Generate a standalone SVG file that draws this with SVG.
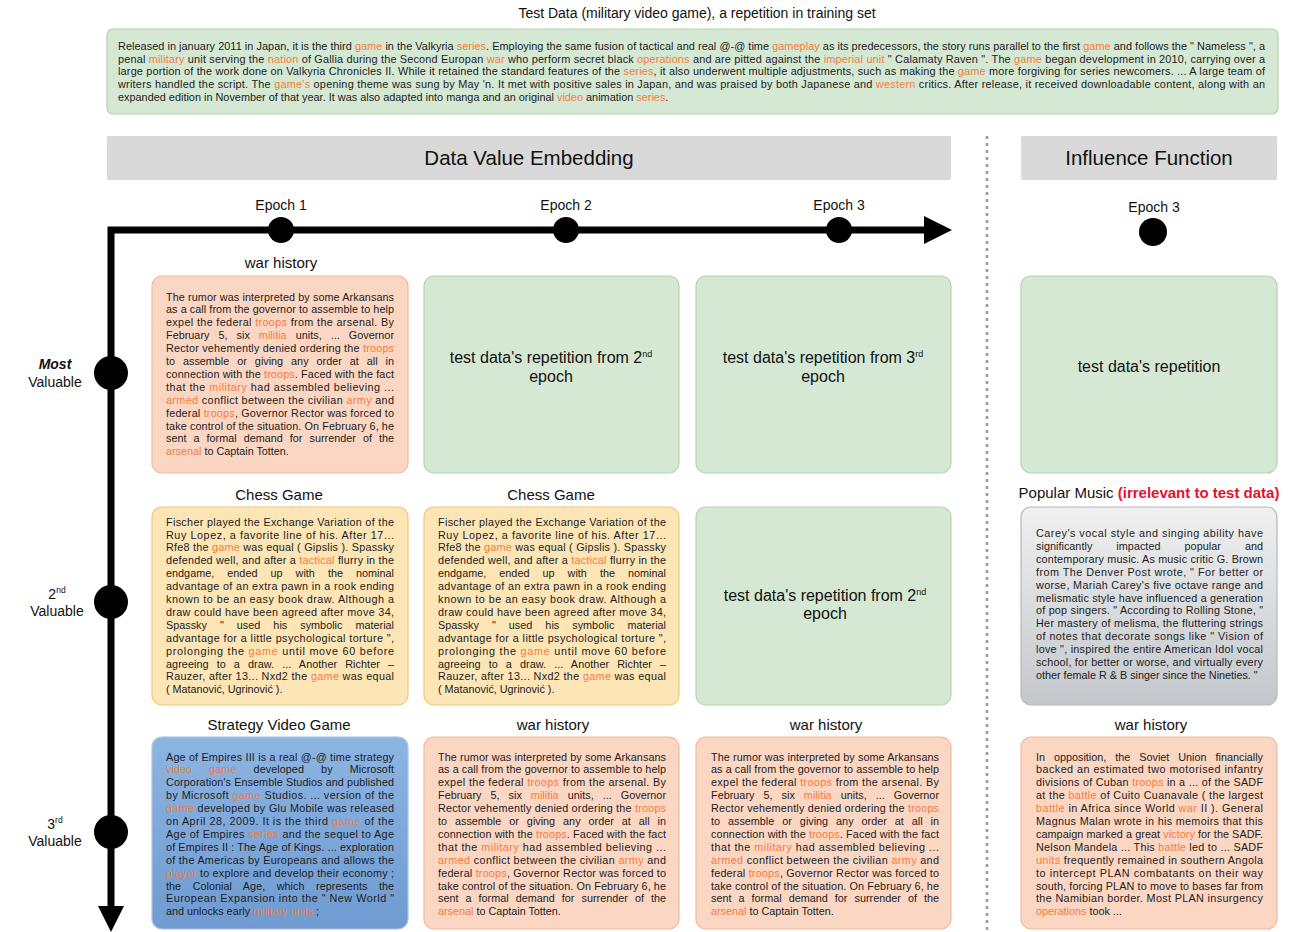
<svg xmlns="http://www.w3.org/2000/svg" width="1294" height="932" viewBox="0 0 1294 932">
<defs>
<style>
.h{font-family:"Liberation Sans",Arial,sans-serif;fill:#111;text-anchor:middle}
.b{font-family:"Liberation Sans",Arial,sans-serif;font-size:10.8px;fill:#1c1c1c}
.t{font-family:"Liberation Sans",Arial,sans-serif;font-size:10.9px;fill:#1c1c1c}
.k{fill:#f47c3c}
.green{fill:#d5e8d4;stroke:#b5d4ab;stroke-width:1.2}
.peach{fill:#fbd6c3;stroke:#f3b99c;stroke-width:1.2}
.yellow{fill:#fde5b6;stroke:#f4c67a;stroke-width:1.2}
.blue{fill:url(#gBlue);stroke:#a9c3e3;stroke-width:1.2}
.gray{fill:url(#gGray);stroke:#b8b8b8;stroke-width:1.2}
.hdr{fill:#d9d9d9}
.axis{fill:none;stroke:#000;stroke-width:7;stroke-linejoin:miter}
</style>
<linearGradient id="gBlue" x1="0" y1="0" x2="0" y2="1">
<stop offset="0" stop-color="#8db5e3"/><stop offset="1" stop-color="#6f9bd2"/>
</linearGradient>
<linearGradient id="gGray" x1="0" y1="0" x2="0" y2="1">
<stop offset="0" stop-color="#f0f0f0"/><stop offset="1" stop-color="#c3c7cc"/>
</linearGradient>
</defs>
<rect width="1294" height="932" fill="#fff"/>

<g id="title">
<text class="h" x="697" y="18" font-size="14">Test Data (military video game), a repetition in training set</text>
</g>

<g id="test-data">
<rect class="green" x="107" y="29" width="1171" height="85" rx="6"/>
<text class="t" x="118" y="49.7" textLength="1147" lengthAdjust="spacing">Released in january 2011 in Japan, it is the third <tspan class="k">game</tspan> in the Valkyria <tspan class="k">series</tspan>. Employing the same fusion of tactical and real @-@ time <tspan class="k">gameplay</tspan> as its predecessors, the story runs parallel to the first <tspan class="k">game</tspan> and follows the " Nameless ", a</text>
<text class="t" x="118" y="62.5" textLength="1147" lengthAdjust="spacing">penal <tspan class="k">military</tspan> unit serving the <tspan class="k">nation</tspan> of Gallia during the Second Europan <tspan class="k">war</tspan> who perform secret black <tspan class="k">operations</tspan> and are pitted against the <tspan class="k">imperial unit</tspan> " Calamaty Raven ". The <tspan class="k">game</tspan> began development in 2010, carrying over a</text>
<text class="t" x="118" y="75.3" textLength="1147" lengthAdjust="spacing">large portion of the work done on Valkyria Chronicles II. While it retained the standard features of the <tspan class="k">series</tspan>, it also underwent multiple adjustments, such as making the <tspan class="k">game</tspan> more forgiving for series newcomers. ... A large team of</text>
<text class="t" x="118" y="88.1" textLength="1147" lengthAdjust="spacing">writers handled the script. The <tspan class="k">game's</tspan> opening theme was sung by May 'n. It met with positive sales in Japan, and was praised by both Japanese and <tspan class="k">western</tspan> critics. After release, it received downloadable content, along with an</text>
<text class="t" x="118" y="100.9">expanded edition in November of that year. It was also adapted into manga and an original <tspan class="k">video</tspan> animation <tspan class="k">series</tspan>.</text>
</g>

<g id="header-dve">
<rect class="hdr" x="107" y="136" width="844" height="44" rx="2"/>
<text class="h" x="529" y="165" font-size="20.5">Data Value Embedding</text>
</g>
<g id="header-if">
<rect class="hdr" x="1021" y="136" width="256" height="44" rx="2"/>
<text class="h" x="1149" y="165" font-size="20.5">Influence Function</text>
</g>

<g id="connectors">
<line x1="987" y1="136" x2="987" y2="932" stroke="#9a9a9a" stroke-width="2.5" stroke-dasharray="3,4"/>
<path class="axis" d="M111,908 V230 H928"/>
<polygon points="924,216 952,230 924,244" fill="#000"/>
<polygon points="98,906 124,906 111,932" fill="#000"/>
</g>

<g id="epoch-1"><circle cx="281" cy="230" r="13"/><text class="h" x="281" y="210" font-size="14">Epoch 1</text></g>
<g id="epoch-2"><circle cx="566" cy="230" r="13"/><text class="h" x="566" y="210" font-size="14">Epoch 2</text></g>
<g id="epoch-3"><circle cx="839" cy="230" r="13"/><text class="h" x="839" y="210" font-size="14">Epoch 3</text></g>
<g id="if-epoch-3"><circle cx="1153" cy="232" r="14"/><text class="h" x="1154" y="212" font-size="14">Epoch 3</text></g>

<g id="rank-1"><circle cx="111" cy="373" r="17"/><text class="h" x="55" y="369" font-size="14" font-style="italic" font-weight="bold">Most</text><text class="h" x="55" y="387" font-size="14">Valuable</text></g>
<g id="rank-2"><circle cx="111" cy="602" r="17"/><text class="h" x="57" y="599" font-size="14">2<tspan font-size="8.5" dy="-6">nd</tspan></text><text class="h" x="57" y="616" font-size="14">Valuable</text></g>
<g id="rank-3"><circle cx="111" cy="832" r="17"/><text class="h" x="55" y="829" font-size="14">3<tspan font-size="8.5" dy="-6">rd</tspan></text><text class="h" x="55" y="846" font-size="14">Valuable</text></g>

<g id="r1c1">
<text class="h" x="281" y="268" font-size="15">war history</text>
<rect class="peach" x="152" y="276" width="256" height="197" rx="10"/>
<text class="b" x="166" y="300.5" textLength="228" lengthAdjust="spacing">The rumor was interpreted by some Arkansans</text>
<text class="b" x="166" y="313.4" textLength="228" lengthAdjust="spacing">as a call from the governor to assemble to help</text>
<text class="b" x="166" y="326.3" textLength="228" lengthAdjust="spacing">expel the federal <tspan class="k">troops</tspan> from the arsenal. By</text>
<text class="b" x="166" y="339.2" textLength="228" lengthAdjust="spacing" word-spacing="6">February 5, six <tspan class="k">militia</tspan> units, ... Governor</text>
<text class="b" x="166" y="352.1" textLength="228" lengthAdjust="spacing">Rector vehemently denied ordering the <tspan class="k">troops</tspan></text>
<text class="b" x="166" y="365" textLength="228" lengthAdjust="spacing" word-spacing="5">to assemble or giving any order at all in</text>
<text class="b" x="166" y="377.9" textLength="228" lengthAdjust="spacing">connection with the <tspan class="k">troops</tspan>. Faced with the fact</text>
<text class="b" x="166" y="390.8" textLength="228" lengthAdjust="spacing">that the <tspan class="k">military</tspan> had assembled believing ...</text>
<text class="b" x="166" y="403.7" textLength="228" lengthAdjust="spacing"><tspan class="k">armed</tspan> conflict between the civilian <tspan class="k">army</tspan> and</text>
<text class="b" x="166" y="416.6" textLength="228" lengthAdjust="spacing">federal <tspan class="k">troops</tspan>, Governor Rector was forced to</text>
<text class="b" x="166" y="429.5" textLength="228" lengthAdjust="spacing">take control of the situation. On February 6, he</text>
<text class="b" x="166" y="442.4" textLength="228" lengthAdjust="spacing" word-spacing="4">sent a formal demand for surrender of the</text>
<text class="b" x="166" y="455.3"><tspan class="k">arsenal</tspan> to Captain Totten.</text>
</g>

<g id="r1c2">
<rect class="green" x="424" y="276" width="255" height="197" rx="10"/>
<text class="h" x="551" y="363" font-size="16">test data's repetition from 2<tspan font-size="9" dy="-6">nd</tspan></text>
<text class="h" x="551" y="382" font-size="16">epoch</text>
</g>
<g id="r1c3">
<rect class="green" x="696" y="276" width="255" height="197" rx="10"/>
<text class="h" x="823" y="363" font-size="16">test data's repetition from 3<tspan font-size="9" dy="-6">rd</tspan></text>
<text class="h" x="823" y="382" font-size="16">epoch</text>
</g>
<g id="r1c4">
<rect class="green" x="1021" y="276" width="256" height="197" rx="10"/>
<text class="h" x="1149" y="372" font-size="16">test data's repetition</text>
</g>

<g id="r2c1">
<text class="h" x="279" y="500" font-size="15">Chess Game</text>
<rect class="yellow" x="152" y="507" width="256" height="198" rx="10"/>
<text class="b" x="166" y="525.6" textLength="228" lengthAdjust="spacing">Fischer played the Exchange Variation of the</text>
<text class="b" x="166" y="538.5" textLength="228" lengthAdjust="spacing">Ruy Lopez, a favorite line of his. After 17...</text>
<text class="b" x="166" y="551.4" textLength="228" lengthAdjust="spacing">Rfe8 the <tspan class="k">game</tspan> was equal ( Gipslis ). Spassky</text>
<text class="b" x="166" y="564.3" textLength="228" lengthAdjust="spacing">defended well, and after a <tspan class="k">tactical</tspan> flurry in the</text>
<text class="b" x="166" y="577.2" textLength="228" lengthAdjust="spacing" word-spacing="10">endgame, ended up with the nominal</text>
<text class="b" x="166" y="590.1" textLength="228" lengthAdjust="spacing">advantage of an extra pawn in a rook ending</text>
<text class="b" x="166" y="603" textLength="228" lengthAdjust="spacing">known to be an easy book draw. Although a</text>
<text class="b" x="166" y="615.9" textLength="228" lengthAdjust="spacing">draw could have been agreed after move 34,</text>
<text class="b" x="166" y="628.8" textLength="228" lengthAdjust="spacing" word-spacing="10">Spassky " used his symbolic material</text>
<text class="b" x="166" y="641.7" textLength="228" lengthAdjust="spacing">advantage for a little psychological torture ",</text>
<text class="b" x="166" y="654.6" textLength="228" lengthAdjust="spacing">prolonging the <tspan class="k">game</tspan> until move 60 before</text>
<text class="b" x="166" y="667.5" textLength="228" lengthAdjust="spacing" word-spacing="5">agreeing to a draw. ... Another Richter –</text>
<text class="b" x="166" y="680.4" textLength="228" lengthAdjust="spacing">Rauzer, after 13... Nxd2 the <tspan class="k">game</tspan> was equal</text>
<text class="b" x="166" y="693.3">( Matanović, Ugrinović ).</text>
</g>

<g id="r2c2">
<text class="h" x="551" y="500" font-size="15">Chess Game</text>
<rect class="yellow" x="424" y="507" width="255" height="198" rx="10"/>
<text class="b" x="438" y="525.6" textLength="228" lengthAdjust="spacing">Fischer played the Exchange Variation of the</text>
<text class="b" x="438" y="538.5" textLength="228" lengthAdjust="spacing">Ruy Lopez, a favorite line of his. After 17...</text>
<text class="b" x="438" y="551.4" textLength="228" lengthAdjust="spacing">Rfe8 the <tspan class="k">game</tspan> was equal ( Gipslis ). Spassky</text>
<text class="b" x="438" y="564.3" textLength="228" lengthAdjust="spacing">defended well, and after a <tspan class="k">tactical</tspan> flurry in the</text>
<text class="b" x="438" y="577.2" textLength="228" lengthAdjust="spacing" word-spacing="10">endgame, ended up with the nominal</text>
<text class="b" x="438" y="590.1" textLength="228" lengthAdjust="spacing">advantage of an extra pawn in a rook ending</text>
<text class="b" x="438" y="603" textLength="228" lengthAdjust="spacing">known to be an easy book draw. Although a</text>
<text class="b" x="438" y="615.9" textLength="228" lengthAdjust="spacing">draw could have been agreed after move 34,</text>
<text class="b" x="438" y="628.8" textLength="228" lengthAdjust="spacing" word-spacing="10">Spassky " used his symbolic material</text>
<text class="b" x="438" y="641.7" textLength="228" lengthAdjust="spacing">advantage for a little psychological torture ",</text>
<text class="b" x="438" y="654.6" textLength="228" lengthAdjust="spacing">prolonging the <tspan class="k">game</tspan> until move 60 before</text>
<text class="b" x="438" y="667.5" textLength="228" lengthAdjust="spacing" word-spacing="5">agreeing to a draw. ... Another Richter –</text>
<text class="b" x="438" y="680.4" textLength="228" lengthAdjust="spacing">Rauzer, after 13... Nxd2 the <tspan class="k">game</tspan> was equal</text>
<text class="b" x="438" y="693.3">( Matanović, Ugrinović ).</text>
</g>

<g id="r2c3">
<rect class="green" x="696" y="507" width="255" height="198" rx="10"/>
<text class="h" x="825" y="601" font-size="16">test data's repetition from 2<tspan font-size="9" dy="-6">nd</tspan></text>
<text class="h" x="825" y="619" font-size="16">epoch</text>
</g>

<g id="r2c4">
<text class="h" x="1149" y="498" font-size="15">Popular Music <tspan fill="#e8112d" font-weight="bold">(irrelevant to test data)</tspan></text>
<rect class="gray" x="1021" y="507" width="256" height="198" rx="10"/>
<text class="b" x="1036" y="537" textLength="227" lengthAdjust="spacing">Carey's vocal style and singing ability have</text>
<text class="b" x="1036" y="549.9" textLength="227" lengthAdjust="spacing" word-spacing="21">significantly impacted popular and</text>
<text class="b" x="1036" y="562.8" textLength="227" lengthAdjust="spacing">contemporary music. As music critic G. Brown</text>
<text class="b" x="1036" y="575.7" textLength="227" lengthAdjust="spacing">from The Denver Post wrote, " For better or</text>
<text class="b" x="1036" y="588.6" textLength="227" lengthAdjust="spacing">worse, Mariah Carey's five octave range and</text>
<text class="b" x="1036" y="601.5" textLength="227" lengthAdjust="spacing">melismatic style have influenced a generation</text>
<text class="b" x="1036" y="614.4" textLength="227" lengthAdjust="spacing">of pop singers. " According to Rolling Stone, "</text>
<text class="b" x="1036" y="627.3" textLength="227" lengthAdjust="spacing">Her mastery of melisma, the fluttering strings</text>
<text class="b" x="1036" y="640.2" textLength="227" lengthAdjust="spacing">of notes that decorate songs like " Vision of</text>
<text class="b" x="1036" y="653.1" textLength="227" lengthAdjust="spacing">love ", inspired the entire American Idol vocal</text>
<text class="b" x="1036" y="666" textLength="227" lengthAdjust="spacing">school, for better or worse, and virtually every</text>
<text class="b" x="1036" y="678.9">other female R &amp; B singer since the Nineties. "</text>
</g>

<g id="r3c1">
<text class="h" x="279" y="730" font-size="15">Strategy Video Game</text>
<rect class="blue" x="152" y="737" width="256" height="192" rx="10"/>
<text class="b" x="166" y="760.5" textLength="228" lengthAdjust="spacing">Age of Empires III is a real @-@ time strategy</text>
<text class="b" x="166" y="773.4" textLength="228" lengthAdjust="spacing" word-spacing="14"><tspan class="k">video</tspan> <tspan class="k">game</tspan> developed by Microsoft</text>
<text class="b" x="166" y="786.3" textLength="228" lengthAdjust="spacing">Corporation's Ensemble Studios and published</text>
<text class="b" x="166" y="799.2" textLength="228" lengthAdjust="spacing">by Microsoft <tspan class="k">game</tspan> Studios. ... version of the</text>
<text class="b" x="166" y="812.1" textLength="228" lengthAdjust="spacing"><tspan class="k">game</tspan> developed by Glu Mobile was released</text>
<text class="b" x="166" y="825" textLength="228" lengthAdjust="spacing">on April 28, 2009. It is the third <tspan class="k">game</tspan> of the</text>
<text class="b" x="166" y="837.9" textLength="228" lengthAdjust="spacing">Age of Empires <tspan class="k">series</tspan> and the sequel to Age</text>
<text class="b" x="166" y="850.8" textLength="228" lengthAdjust="spacing">of Empires II : The Age of Kings. ... exploration</text>
<text class="b" x="166" y="863.7" textLength="228" lengthAdjust="spacing">of the Americas by Europeans and allows the</text>
<text class="b" x="166" y="876.6" textLength="228" lengthAdjust="spacing"><tspan class="k">player</tspan> to explore and develop their economy ;</text>
<text class="b" x="166" y="889.5" textLength="228" lengthAdjust="spacing" word-spacing="8.5">the Colonial Age, which represents the</text>
<text class="b" x="166" y="902.4" textLength="228" lengthAdjust="spacing">European Expansion into the " New World "</text>
<text class="b" x="166" y="915.3">and unlocks early <tspan class="k">military units</tspan> ;</text>
</g>

<g id="r3c2">
<text class="h" x="553" y="730" font-size="15">war history</text>
<rect class="peach" x="424" y="737" width="255" height="192" rx="10"/>
<text class="b" x="438" y="760.5" textLength="228" lengthAdjust="spacing">The rumor was interpreted by some Arkansans</text>
<text class="b" x="438" y="773.4" textLength="228" lengthAdjust="spacing">as a call from the governor to assemble to help</text>
<text class="b" x="438" y="786.3" textLength="228" lengthAdjust="spacing">expel the federal <tspan class="k">troops</tspan> from the arsenal. By</text>
<text class="b" x="438" y="799.2" textLength="228" lengthAdjust="spacing" word-spacing="6">February 5, six <tspan class="k">militia</tspan> units, ... Governor</text>
<text class="b" x="438" y="812.1" textLength="228" lengthAdjust="spacing">Rector vehemently denied ordering the <tspan class="k">troops</tspan></text>
<text class="b" x="438" y="825" textLength="228" lengthAdjust="spacing" word-spacing="5">to assemble or giving any order at all in</text>
<text class="b" x="438" y="837.9" textLength="228" lengthAdjust="spacing">connection with the <tspan class="k">troops</tspan>. Faced with the fact</text>
<text class="b" x="438" y="850.8" textLength="228" lengthAdjust="spacing">that the <tspan class="k">military</tspan> had assembled believing ...</text>
<text class="b" x="438" y="863.7" textLength="228" lengthAdjust="spacing"><tspan class="k">armed</tspan> conflict between the civilian <tspan class="k">army</tspan> and</text>
<text class="b" x="438" y="876.6" textLength="228" lengthAdjust="spacing">federal <tspan class="k">troops</tspan>, Governor Rector was forced to</text>
<text class="b" x="438" y="889.5" textLength="228" lengthAdjust="spacing">take control of the situation. On February 6, he</text>
<text class="b" x="438" y="902.4" textLength="228" lengthAdjust="spacing" word-spacing="4">sent a formal demand for surrender of the</text>
<text class="b" x="438" y="915.3"><tspan class="k">arsenal</tspan> to Captain Totten.</text>
</g>

<g id="r3c3">
<text class="h" x="826" y="730" font-size="15">war history</text>
<rect class="peach" x="696" y="737" width="255" height="192" rx="10"/>
<text class="b" x="711" y="760.5" textLength="228" lengthAdjust="spacing">The rumor was interpreted by some Arkansans</text>
<text class="b" x="711" y="773.4" textLength="228" lengthAdjust="spacing">as a call from the governor to assemble to help</text>
<text class="b" x="711" y="786.3" textLength="228" lengthAdjust="spacing">expel the federal <tspan class="k">troops</tspan> from the arsenal. By</text>
<text class="b" x="711" y="799.2" textLength="228" lengthAdjust="spacing" word-spacing="6">February 5, six <tspan class="k">militia</tspan> units, ... Governor</text>
<text class="b" x="711" y="812.1" textLength="228" lengthAdjust="spacing">Rector vehemently denied ordering the <tspan class="k">troops</tspan></text>
<text class="b" x="711" y="825" textLength="228" lengthAdjust="spacing" word-spacing="5">to assemble or giving any order at all in</text>
<text class="b" x="711" y="837.9" textLength="228" lengthAdjust="spacing">connection with the <tspan class="k">troops</tspan>. Faced with the fact</text>
<text class="b" x="711" y="850.8" textLength="228" lengthAdjust="spacing">that the <tspan class="k">military</tspan> had assembled believing ...</text>
<text class="b" x="711" y="863.7" textLength="228" lengthAdjust="spacing"><tspan class="k">armed</tspan> conflict between the civilian <tspan class="k">army</tspan> and</text>
<text class="b" x="711" y="876.6" textLength="228" lengthAdjust="spacing">federal <tspan class="k">troops</tspan>, Governor Rector was forced to</text>
<text class="b" x="711" y="889.5" textLength="228" lengthAdjust="spacing">take control of the situation. On February 6, he</text>
<text class="b" x="711" y="902.4" textLength="228" lengthAdjust="spacing" word-spacing="4">sent a formal demand for surrender of the</text>
<text class="b" x="711" y="915.3"><tspan class="k">arsenal</tspan> to Captain Totten.</text>
</g>

<g id="r3c4">
<text class="h" x="1151" y="730" font-size="15">war history</text>
<rect class="peach" x="1021" y="737" width="256" height="192" rx="10"/>
<text class="b" x="1036" y="760.5" textLength="227" lengthAdjust="spacing" word-spacing="6">In opposition, the Soviet Union financially</text>
<text class="b" x="1036" y="773.4" textLength="227" lengthAdjust="spacing">backed an estimated two motorised infantry</text>
<text class="b" x="1036" y="786.3" textLength="227" lengthAdjust="spacing">divisions of Cuban <tspan class="k">troops</tspan> in a ... of the SADF</text>
<text class="b" x="1036" y="799.2" textLength="227" lengthAdjust="spacing">at the <tspan class="k">battle</tspan> of Cuito Cuanavale ( the largest</text>
<text class="b" x="1036" y="812.1" textLength="227" lengthAdjust="spacing"><tspan class="k">battle</tspan> in Africa since World <tspan class="k">war</tspan> II ). General</text>
<text class="b" x="1036" y="825" textLength="227" lengthAdjust="spacing">Magnus Malan wrote in his memoirs that this</text>
<text class="b" x="1036" y="837.9" textLength="227" lengthAdjust="spacing">campaign marked a great <tspan class="k">victory</tspan> for the SADF.</text>
<text class="b" x="1036" y="850.8" textLength="227" lengthAdjust="spacing">Nelson Mandela ... This <tspan class="k">battle</tspan> led to ... SADF</text>
<text class="b" x="1036" y="863.7" textLength="227" lengthAdjust="spacing"><tspan class="k">units</tspan> frequently remained in southern Angola</text>
<text class="b" x="1036" y="876.6" textLength="227" lengthAdjust="spacing">to intercept PLAN combatants on their way</text>
<text class="b" x="1036" y="889.5" textLength="227" lengthAdjust="spacing">south, forcing PLAN to move to bases far from</text>
<text class="b" x="1036" y="902.4" textLength="227" lengthAdjust="spacing">the Namibian border. Most PLAN insurgency</text>
<text class="b" x="1036" y="915.3"><tspan class="k">operations</tspan> took ...</text>
</g>
</svg>
